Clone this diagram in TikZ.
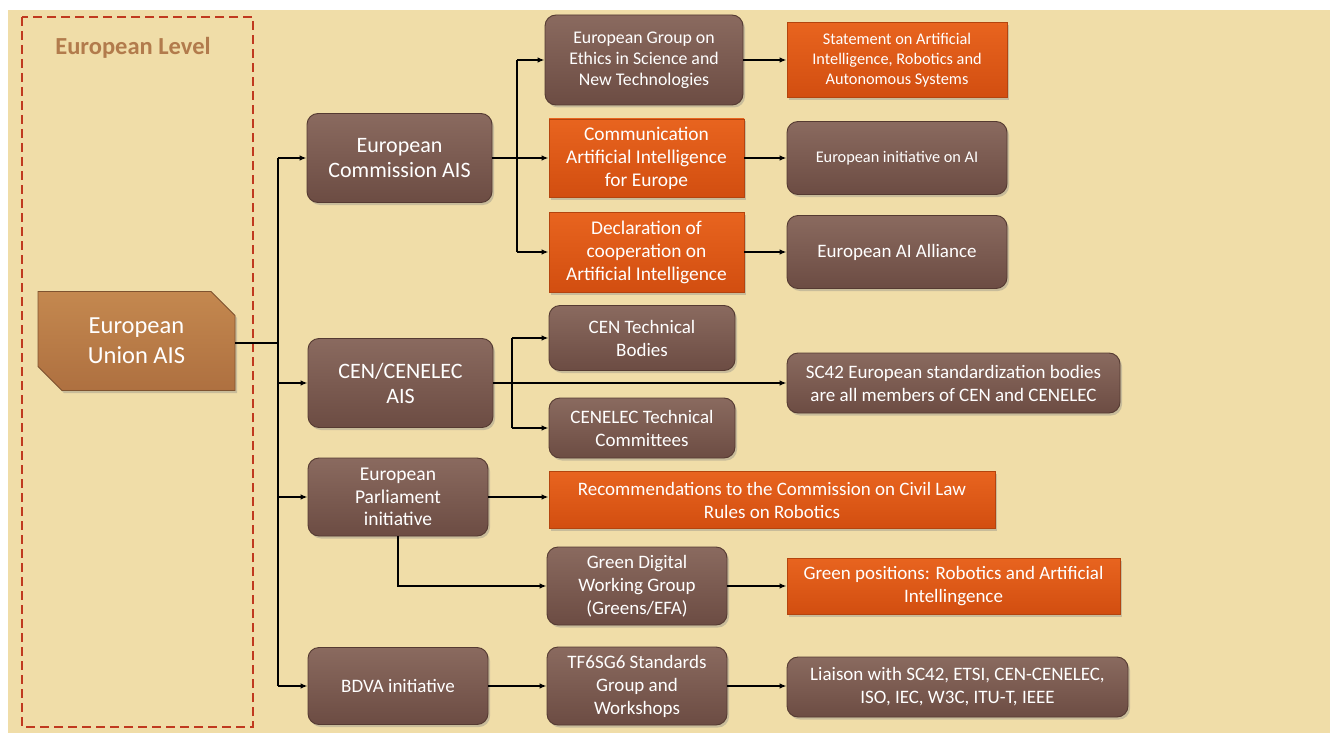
\documentclass[tikz,border=0pt]{standalone}
\usepackage{fontspec}
\setmainfont{Carlito}
\usetikzlibrary{shapes.misc,shadows,arrows.meta}
\definecolor{parch}{HTML}{F0DDA8}
\definecolor{browntop}{HTML}{8A6A5F}
\definecolor{brownbot}{HTML}{6C4C43}
\definecolor{brownline}{HTML}{553A32}
\definecolor{orgtop}{HTML}{E8641F}
\definecolor{orgbot}{HTML}{D24E10}
\definecolor{orgline}{HTML}{B4440E}
\definecolor{bronzetop}{HTML}{C4884F}
\definecolor{bronzebot}{HTML}{AE7040}
\definecolor{bronzeline}{HTML}{7F5330}
\definecolor{dashred}{HTML}{C0391F}
\definecolor{lvltext}{HTML}{B27B4C}
\tikzset{
  basebox/.style={text=white, align=center, inner sep=2pt, line width=0.9pt,
    drop shadow={opacity=0.35, shadow xshift=2pt, shadow yshift=-2.5pt}},
  bbox/.style={basebox, rounded corners=11pt, draw=brownline, top color=browntop, bottom color=brownbot},
  obox/.style={basebox, rectangle, draw=orgline, top color=orgtop, bottom color=orgbot},
  eubox/.style={basebox, chamfered rectangle, chamfered rectangle corners={north east, south west},
    chamfered rectangle xsep=12pt, chamfered rectangle ysep=12pt,
    draw=bronzeline, top color=bronzetop, bottom color=bronzebot},
  conn/.style={line width=2pt, black},
  arr/.style={conn, -{Latex[length=7pt,width=5.5pt]}},
  fa/.style={font=\fontsize{24.5}{30}\selectfont},
  fb/.style={font=\fontsize{22}{25}\selectfont},
  fc/.style={font=\fontsize{19}{23}\selectfont},
  fd/.style={font=\fontsize{17.8}{21}\selectfont},
  fe/.style={font=\fontsize{16.3}{20}\selectfont},
}
\begin{document}
\begin{tikzpicture}[x=1pt,y=-1pt]
\useasboundingbox (0,0) rectangle (1336,733);
\fill[white] (0,0) rectangle (1336,733);
\fill[parch] (8,10) rectangle (1330,733);
\draw[dashred, line width=1.3pt, dash pattern=on 9pt off 5pt] (22,17) rectangle (253,727);
\node[font=\bfseries\fontsize{24.5}{28}\selectfont, text=lvltext] (lvl) at (133,48) {European Level};

% level 0
\node[eubox, fa, minimum width=197pt, minimum height=99pt] (eu) at (136.5,341) {European\\Union AIS};

% level 1
\node[bbox, fb, minimum width=185pt, minimum height=89pt] (ec) at (399.5,158) {European\\Commission AIS};
\node[bbox, fb, minimum width=185pt, minimum height=89pt] (cen) at (400.5,383) {CEN/CENELEC\\AIS};
\node[bbox, font=\fontsize{19.5}{22.5}\selectfont, minimum width=180pt, minimum height=78pt] (ep) at (398,497) {European\\Parliament\\initiative};
\node[bbox, fc, minimum width=180pt, minimum height=77pt] (bdva) at (398,686) {BDVA initiative};

% level 2
\node[bbox, fd, minimum width=198pt, minimum height=90pt] (grp) at (644,60) {European Group on\\Ethics in Science and\\New Technologies};
\node[obox, font=\fontsize{19.4}{23}\selectfont, minimum width=195pt, minimum height=78pt] (comm) at (646.5,158) {Communication\\Artificial Intelligence\\for Europe};
\node[obox, font=\fontsize{19.4}{23}\selectfont, minimum width=195pt, minimum height=80pt] (decl) at (646.5,252) {Declaration of\\cooperation on\\Artificial Intelligence};
\node[bbox, fc, minimum width=186pt, minimum height=65pt] (cent) at (642,338) {CEN Technical\\Bodies};
\node[bbox, fc, minimum width=186pt, minimum height=60pt] (cenel) at (642,428) {CENELEC Technical\\Committees};
\node[obox, fc, minimum width=446pt, minimum height=57pt] (rec) at (772,500) {Recommendations to the Commission on Civil Law\\Rules on Robotics};
\node[bbox, fc, minimum width=180pt, minimum height=78pt] (gdw) at (637,586) {Green Digital\\Working Group\\(Greens/EFA)};
\node[bbox, fc, minimum width=180pt, minimum height=78pt] (tf) at (637,686) {TF6SG6 Standards\\Group and\\Workshops};

% level 3
\node[obox, fe, minimum width=220pt, minimum height=75pt] (stmt) at (897,60) {Statement on Artificial\\Intelligence, Robotics and\\Autonomous Systems};
\node[bbox, fe, minimum width=220pt, minimum height=73pt] (init) at (897,158) {European initiative on AI};
\node[bbox, fc, minimum width=220pt, minimum height=73pt] (alli) at (897,252) {European AI Alliance};
\node[bbox, fc, minimum width=333pt, minimum height=60pt] (sc42) at (953.5,383) {SC42 European standardization bodies\\are all members of CEN and CENELEC};
\node[obox, fc, minimum width=333pt, minimum height=56pt] (gpos) at (953.5,586) {Green positions: Robotics and Artificial\\Intellingence};
\node[bbox, fc, minimum width=341pt, minimum height=60pt] (liai) at (957.5,687) {Liaison with SC42, ETSI, CEN-CENELEC,\\ISO, IEC, W3C, ITU-T, IEEE};

% trunks
\coordinate (t1) at (278,343);
\coordinate (t2) at (517,158);
\coordinate (t3) at (512,383);

\draw[conn] (eu.east |- t1) -- (t1);
\draw[conn] (t1 |- ec.west) -- (t1 |- bdva.west);
\draw[arr] (t1 |- ec.west) -- (ec.west);
\draw[arr] (t1 |- cen.west) -- (cen.west);
\draw[arr] (t1 |- ep.west) -- (ep.west);
\draw[arr] (t1 |- bdva.west) -- (bdva.west);

\draw[conn] (ec.east) -- (t2 |- ec.east);
\draw[conn] (t2 |- grp.west) -- (t2 |- decl.west);
\draw[arr] (t2 |- grp.west) -- (grp.west);
\draw[arr] (t2 |- comm.west) -- (comm.west);
\draw[arr] (t2 |- decl.west) -- (decl.west);

\draw[arr] (grp.east) -- (grp.east -| stmt.west);
\draw[arr] (comm.east) -- (comm.east -| init.west);
\draw[arr] (decl.east) -- (decl.east -| alli.west);

\draw[arr] (cen.east) -- (cen.east -| sc42.west);
\draw[conn] (t3 |- cent.west) -- (t3 |- cenel.west);
\draw[arr] (t3 |- cent.west) -- (cent.west);
\draw[arr] (t3 |- cenel.west) -- (cenel.west);

\draw[arr] (ep.east) -- (ep.east -| rec.west);
\draw[arr] (ep.south) -- (ep.south |- gdw.west) -- (gdw.west);
\draw[arr] (gdw.east) -- (gdw.east -| gpos.west);

\draw[arr] (bdva.east) -- (bdva.east -| tf.west);
\draw[arr] (tf.east) -- (tf.east -| liai.west);
\end{tikzpicture}
\end{document}
